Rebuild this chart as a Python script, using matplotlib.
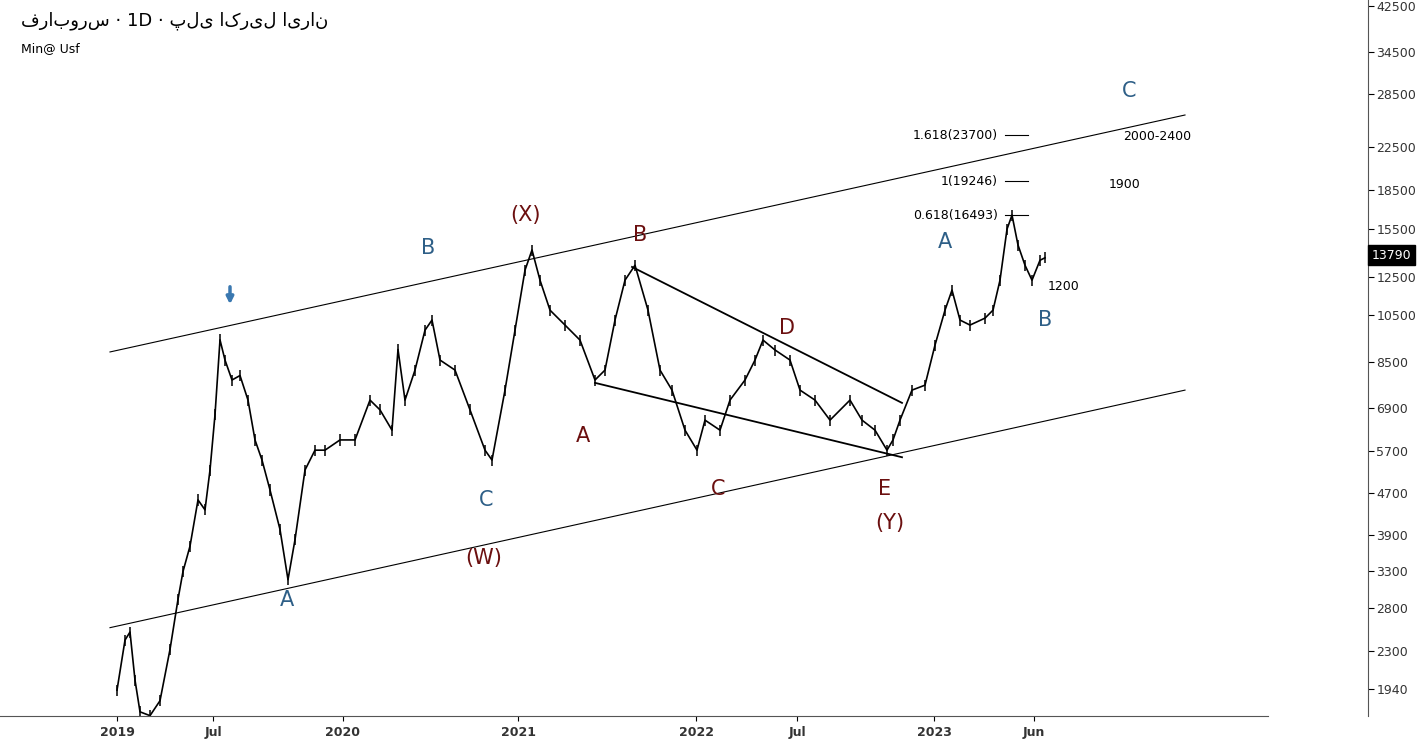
import numpy as np
import matplotlib.pyplot as plt
from matplotlib.ticker import FixedLocator, NullLocator

plt.rcParams['font.family'] = ['DejaVu Sans', 'Noto Sans']

# bar index (chart units) and approximate price path
bars = [117, 125, 130, 135, 140, 150, 160, 170, 178, 183, 190, 198, 205, 210, 215, 220, 225,
        232, 240, 248, 255, 262, 270, 280, 288, 295, 305, 315, 325, 340, 355, 370, 380, 392,
        398, 405, 415, 425, 432, 440, 455, 470, 485, 492, 505, 515, 525, 532, 540, 550, 565,
        580, 595, 605, 615, 625, 635, 648, 660, 672, 685, 697, 705, 720, 730, 745, 755, 763,
        775, 790, 800, 815, 830, 850, 862, 875, 887, 893, 900, 912, 925, 935, 945, 952, 960,
        970, 985, 993, 1000, 1007, 1012, 1018, 1025, 1032, 1040, 1045]
prices = [1930, 2420, 2510, 2020, 1750, 1720, 1840, 2320, 2910, 3300, 3700, 4560, 4360, 5220,
          6700, 9400, 8580, 7840, 8000, 7160, 5980, 5460, 4770, 3990, 3180, 3810, 5220, 5710,
          5710, 5980, 5980, 7160, 6850, 6250, 9000, 7160, 8200, 9820, 10280, 8580, 8200, 6850,
          5710, 5460, 7490, 9820, 12880, 14110, 12310, 10750, 10050, 9390, 7840, 8200, 10280,
          12310, 13170, 10750, 8200, 7490, 6250, 5710, 6540, 6250, 7160, 7840, 8580, 9390,
          8980, 8580, 7490, 7160, 6540, 7160, 6540, 6250, 5710, 5980, 6540, 7490, 7660, 9180,
          10750, 11770, 10280, 10050, 10370, 10750, 12310, 15500, 16520, 14430, 13170, 12310,
          13470, 13620]

year_pos = [117, 213, 343, 518, 696, 797, 934, 1034]
year_lbl = ['2019', 'Jul', '2020', '2021', '2022', 'Jul', '2023', 'Jun']
price_ticks = [1940, 2300, 2800, 3300, 3900, 4700, 5700, 6900, 8500, 10500, 12500,
               15500, 18500, 22500, 28500, 34500, 42500]

upper_x, upper_p = [110, 1185], [8900, 25970]
lower_x, lower_p = [110, 1185], [2560, 7490]
tri_up_x, tri_up_p = [632, 902], [13070, 7070]
tri_lo_x, tri_lo_p = [595, 902], [7740, 5530]

fib_vals = [23700, 19246, 16493]
fib_txt = ['1.618(23700)', '1(19246)', '0.618(16493)']

BLUE = '#2e5f87'
RED = '#6b0f0f'
wave_labels = [  # (x, price, text, colour)
    (428, 14250, 'B', BLUE), (486, 4560, 'C', BLUE), (287, 2900, 'A', BLUE),
    (945, 14600, 'A', BLUE), (1045, 10300, 'B', BLUE), (1129, 29000, 'C', BLUE),
    (525, 16500, '(X)', RED), (640, 15100, 'B', RED), (787, 9900, 'D', RED),
    (583, 6100, 'A', RED), (718, 4800, 'C', RED), (885, 4790, 'E', RED),
    (890, 4100, '(Y)', RED), (484, 3500, '(W)', RED),
]
side_notes = [(1064, 11950, '1200'), (1125, 19000, '1900'), (1157, 23600, '2000-2400')]

fig = plt.figure(figsize=(14.28, 7.49), dpi=100)
ax = fig.add_axes([0, 0.044, 1368 / 1428, 0.956])
ax.set_yscale('log')
ax.set_xlim(0, 1368)
ax.set_ylim(1717, 43670)

ax.plot(bars, prices, color='black', lw=1.2)
ax.vlines(bars, np.array(prices) * 0.975, np.array(prices) * 1.025, color='black', lw=1.1)

for xs, ps in [(upper_x, upper_p), (lower_x, lower_p)]:
    ax.plot(xs, ps, color='black', lw=0.8)
for xs, ps in [(tri_up_x, tri_up_p), (tri_lo_x, tri_lo_p)]:
    ax.plot(xs, ps, color='black', lw=1.3)

for v, t in zip(fib_vals, fib_txt):
    ax.plot([1005, 1028], [v, v], color='black', lw=0.8)
    ax.text(998, v, t, ha='right', va='center', fontsize=9)

for x, p, t, c in wave_labels:
    ax.text(x, p, t, color=c, fontsize=15, ha='center', va='center')
for x, p, t in side_notes:
    ax.text(x, p, t, fontsize=9, ha='center', va='center')
ax.annotate('', xy=(230, 10900), xytext=(230, 12100),
            arrowprops=dict(arrowstyle='-|>', color='#3a78b0', lw=2.5))

ax.yaxis.tick_right()
ax.yaxis.set_major_locator(FixedLocator(price_ticks))
ax.yaxis.set_minor_locator(NullLocator())
ax.set_yticklabels([str(t) for t in price_ticks], fontsize=9, color='#333333')
ax.tick_params(axis='y', pad=2, length=4)
ax.set_xticks(year_pos)
ax.set_xticklabels(year_lbl, fontsize=9, fontweight='bold', color='#333333')
for s in ['top', 'left']:
    ax.spines[s].set_visible(False)
ax.spines['right'].set_color('#555555')
ax.spines['bottom'].set_bounds(0, 1268)
ax.spines['bottom'].set_color('#555555')

ax.text(1.003, 13790, '13790', transform=ax.get_yaxis_transform(), fontsize=9,
        color='white', ha='left', va='center',
        bbox=dict(boxstyle='square,pad=0.3', fc='black', ec='black'))

fig.text(0.015, 0.972, 'فرابورس · 1D · پلی اکریل ایران', fontsize=13, ha='left', va='center')
fig.text(0.015, 0.935, 'Min@ Usf', fontsize=9, ha='left', va='center')

fig.savefig('out.png', dpi=100)
